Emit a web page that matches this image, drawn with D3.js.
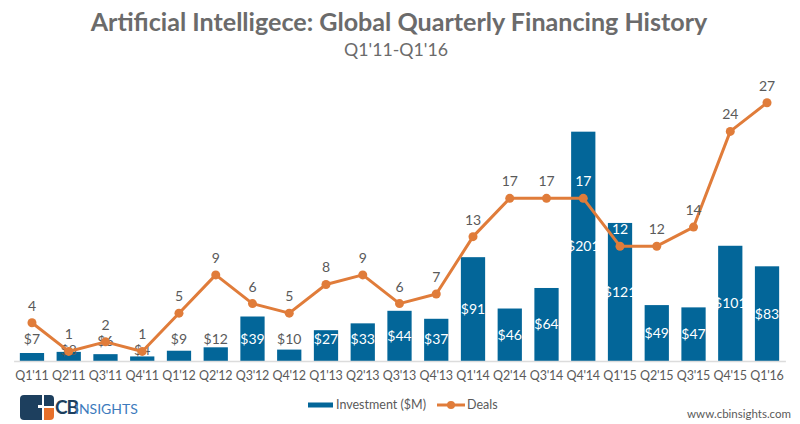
<!DOCTYPE html>
<html>
<head>
<meta charset="utf-8">
<script src="https://cdn.jsdelivr.net/npm/d3@7"></script>
<style>
  body { margin: 0; background: #fff; }
  svg { display: block; font-family: "Lato", "Open Sans", sans-serif; }
</style>
</head>
<body>
<svg id="chart" width="800" height="424"></svg>
<script>
const quarters = ["Q1'11","Q2'11","Q3'11","Q4'11","Q1'12","Q2'12","Q3'12","Q4'12","Q1'13","Q2'13","Q3'13","Q4'13","Q1'14","Q2'14","Q3'14","Q4'14","Q1'15","Q2'15","Q3'15","Q4'15","Q1'16"];
const investment = [7, 8, 6, 4, 9, 12, 39, 10, 27, 33, 44, 37, 91, 46, 64, 201, 121, 49, 47, 101, 83];
const deals = [4, 1, 2, 1, 5, 9, 6, 5, 8, 9, 6, 7, 13, 17, 17, 17, 12, 12, 14, 24, 27];
const titleText = "Artificial Intelligece: Global Quarterly Financing History";
const subtitleText = "Q1'11-Q1'16";
const legendLabels = ["Investment ($M)", "Deals"];

const BLUE = "#036699";
const ORANGE = "#E07C3A";
const GRAY = "#5a5a5a";

const svg = d3.select("#chart");
const baseY = 361;

const x = d3.scaleBand().domain(quarters).range([13.6, 785.4]).paddingInner(0.34).paddingOuter(0.17);
const yInv = d3.scaleLinear().domain([0, 220]).range([baseY, 110]);
const yDeals = d3.scaleLinear().domain([0, 30]).range([baseY, 74]);
const cx = i => x(quarters[i]) + x.bandwidth() / 2;

function fit(sel, width) {
  const w = sel.node().getComputedTextLength();
  const fs = parseFloat(sel.attr("font-size"));
  sel.attr("font-size", fs * width / w);
}

// Title
const t = svg.append("text").attr("x", 399).attr("y", 31).attr("text-anchor", "middle")
  .attr("font-size", 24).attr("font-weight", "bold").attr("fill", "#6b6b6b").text(titleText);
fit(t, 617);
const st = svg.append("text").attr("x", 396).attr("y", 56).attr("text-anchor", "middle")
  .attr("font-size", 16).attr("fill", "#6b6b6b").text(subtitleText);
fit(st, 104);

// Bars
svg.append("g").selectAll("rect").data(investment).join("rect")
  .attr("x", (d, i) => x(quarters[i]))
  .attr("width", x.bandwidth())
  .attr("y", d => yInv(d))
  .attr("height", d => baseY - yInv(d))
  .attr("fill", BLUE);

// Axis line
const xAxis = d3.axisBottom(x).tickSize(0).tickPadding(10);
const ax = svg.append("g").attr("transform", `translate(0,${baseY})`).call(xAxis);
ax.select(".domain").attr("stroke", "#dcdcdc").attr("stroke-width", 1.5);
ax.selectAll("text").attr("font-size", 12.5).attr("fill", GRAY)
  .attr("font-family", "Lato, sans-serif").attr("letter-spacing", "-0.2");

// label positions
const dealLabelY = deals.map(d => yDeals(d) - 17);
const barLabelY = investment.map((d, i) => {
  let y = Math.min((yInv(d) + baseY) / 2, baseY - 22);
  if (Math.abs(dealLabelY[i] - y) < 16) y = dealLabelY[i] + 16;
  return y;
});

// Bar labels
svg.append("g").selectAll("text").data(investment).join("text")
  .attr("x", (d, i) => cx(i))
  .attr("y", (d, i) => barLabelY[i])
  .attr("dy", "0.35em")
  .attr("text-anchor", "middle")
  .attr("font-size", 14)
  .attr("fill", d => (baseY - yInv(d)) > 25 ? "#ffffff" : GRAY)
  .text(d => "$" + d);

// Deals line
const line = d3.line().x((d, i) => cx(i)).y(d => yDeals(d));
svg.append("path").datum(deals).attr("d", line).attr("fill", "none")
  .attr("stroke", ORANGE).attr("stroke-width", 3).attr("stroke-linejoin", "round");
svg.append("g").selectAll("circle").data(deals).join("circle")
  .attr("cx", (d, i) => cx(i))
  .attr("cy", d => yDeals(d))
  .attr("r", 4.5).attr("fill", ORANGE);
svg.append("g").selectAll("text").data(deals).join("text")
  .attr("x", (d, i) => cx(i))
  .attr("y", (d, i) => dealLabelY[i])
  .attr("dy", "0.35em")
  .attr("text-anchor", "middle")
  .attr("font-size", 14)
  .attr("fill", (d, i) => dealLabelY[i] - 5 > yInv(investment[i]) ? "#ffffff" : GRAY)
  .text(d => d);

// Legend
const lg = svg.append("g");
lg.append("rect").attr("x", 308).attr("y", 402.5).attr("width", 25).attr("height", 5).attr("fill", BLUE);
lg.append("text").attr("x", 336).attr("y", 409).attr("font-size", 12.5).attr("fill", GRAY).text(legendLabels[0]);
lg.append("line").attr("x1", 437).attr("x2", 465).attr("y1", 405).attr("y2", 405).attr("stroke", ORANGE).attr("stroke-width", 3);
lg.append("circle").attr("cx", 451).attr("cy", 405).attr("r", 4).attr("fill", ORANGE);
lg.append("text").attr("x", 467).attr("y", 409).attr("font-size", 12.5).attr("fill", GRAY).text(legendLabels[1]);

// Logo
const logo = svg.append("g");
logo.append("path").attr("d", "M24,395 H42 V420 H24 Q20,420 20,416 V399 Q20,395 24,395 Z").attr("fill", "#1d3f5e");
logo.append("path").attr("d", "M44,395 H50 Q54,395 54,399 V406 H44 Z").attr("fill", "#1d3f5e");
logo.append("path").attr("d", "M44,408 H54 V416 Q54,420 50,420 H44 Z").attr("fill", "#e8702a");
logo.append("rect").attr("x", 38).attr("y", 405).attr("width", 6).attr("height", 3).attr("fill", "#fff");
logo.append("text").attr("x", 55).attr("y", 414).attr("font-size", 19).attr("font-weight", "bold")
  .attr("fill", "#1d3f5e").attr("letter-spacing", "-1").text("CB");
logo.append("text").attr("x", 75).attr("y", 414).attr("font-size", 14)
  .attr("fill", "#3d7bbd").text("INSIGHTS");

// Footer url
svg.append("text").attr("x", 791).attr("y", 418).attr("text-anchor", "end")
  .attr("font-size", 11.5).attr("fill", GRAY).text("www.cbinsights.com");
</script>
</body>
</html>
